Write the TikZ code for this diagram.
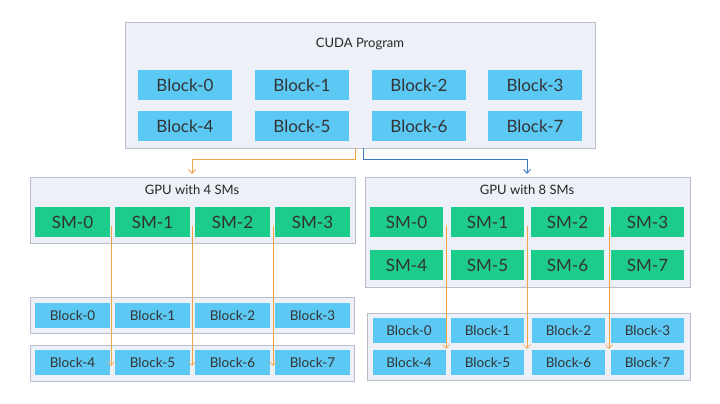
\documentclass[tikz,border=0pt]{standalone}
\usepackage{fontspec}
\setmainfont{Lato}
\usetikzlibrary{arrows.meta}
\definecolor{panel}{HTML}{EDF0F7}
\definecolor{edge}{HTML}{B9BFCA}
\definecolor{blk}{HTML}{5CC9F5}
\definecolor{smc}{HTML}{1DCB8B}
\definecolor{orng}{HTML}{F0A445}
\definecolor{blu}{HTML}{3C78C6}
\tikzset{
  panel/.style = {draw=edge, fill=panel, line width=0.8pt},
  bigblk/.style = {fill=blk, minimum width=94pt, minimum height=30pt, font=\fontsize{17}{17}\selectfont, text=black!80},
  smblk/.style = {fill=blk, minimum height=25pt, font=\fontsize{13.5}{14}\selectfont, text=black!80},
  sm/.style = {fill=smc, minimum height=30pt, font=\fontsize{17}{17}\selectfont, text=black!80},
  ttl/.style = {font=\fontsize{13}{14}\selectfont, text=black!85},
  flow/.style = {line width=0.9pt, -{Straight Barb[length=4pt,width=7pt]}}
}
\begin{document}
\begin{tikzpicture}[x=1pt,y=-1pt]
\useasboundingbox (0,0) rectangle (720,404);

% CUDA program
\draw[panel] (125,22) rectangle (595,148);
\node[ttl] (prog) at (360,44) {CUDA Program};
\foreach \i/\x in {0/185,1/302,2/419,3/535}
  \node[bigblk] (pa\i) at (\x,85) {Block-\i};
\foreach \i/\x in {4/185,5/302,6/419,7/535}
  \node[bigblk] (pa\i) at (\x,126) {Block-\i};

% GPU with 4 SMs
\draw[panel] (30,177) rectangle (355,243);
\node[ttl] (gpuA) at (192,190) {GPU with 4 SMs};
\foreach \i/\x in {0/72.5,1/152.5,2/232.5,3/312.5}
  \node[sm, minimum width=75pt] (smA\i) at (\x,222) {SM-\i};

% GPU with 8 SMs
\draw[panel] (365,177) rectangle (690,287);
\node[ttl] (gpuB) at (527,190) {GPU with 8 SMs};
\foreach \i/\x in {0/406.5,1/487.5,2/567.5,3/647.5}
  \node[sm, minimum width=73pt] (smB\i) at (\x,222) {SM-\i};
\foreach \i/\x in {4/406.5,5/487.5,6/567.5,7/647.5}
  \node[sm, minimum width=73pt] (smB\i) at (\x,265) {SM-\i};

% blocks on 4 SMs
\draw[panel] (30,297) rectangle (354,333);
\draw[panel] (30,345) rectangle (354,381);
\foreach \i/\x in {0/72.5,1/152.5,2/232.5,3/312.5}
  \node[smblk, minimum width=75pt] (qa\i) at (\x,315.5) {Block-\i};
\foreach \i/\x in {4/72.5,5/152.5,6/232.5,7/312.5}
  \node[smblk, minimum width=75pt] (qa\i) at (\x,362.5) {Block-\i};

% blocks on 8 SMs
\draw[panel] (367,313) rectangle (690,380);
\foreach \i/\x in {0/409,1/487.5,2/568.5,3/647.5}
  \node[smblk, minimum width=73pt] (qb\i) at (\x,330.5) {Block-\i};
\foreach \i/\x in {4/409,5/487.5,6/568.5,7/647.5}
  \node[smblk, minimum width=73pt] (qb\i) at (\x,362.5) {Block-\i};

% dispatch
\coordinate (split) at (prog |- 0,148);
\draw[flow, orng] (355,148) -- (355,159) -| (gpuA |- 0,174);
\draw[flow, blu] (363,148) -- (363,159) -| (gpuB |- 0,174);

% scheduling
\foreach \x in {111,192,273}
  \draw[flow, orng, line width=0.6pt] (\x,226) -- (\x,366);
\foreach \x in {446,527,609}
  \draw[flow, orng, line width=0.6pt] (\x,226) -- (\x,349);
\end{tikzpicture}
\end{document}
